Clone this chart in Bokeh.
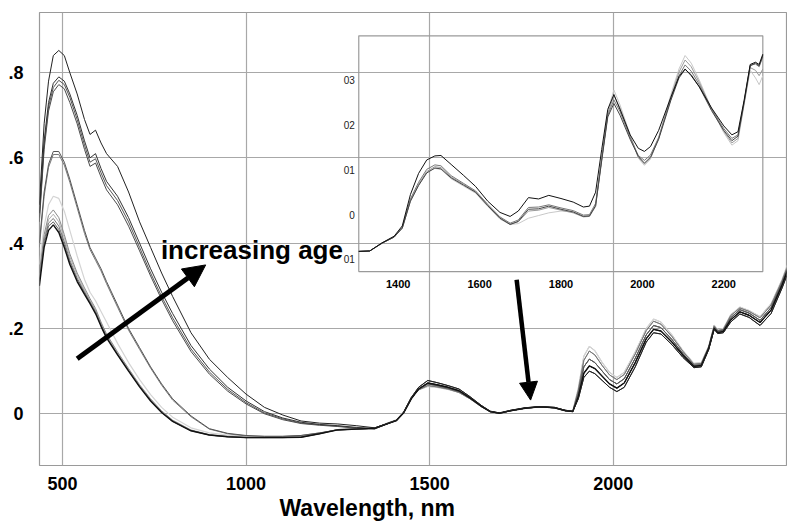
from bokeh.plotting import figure
from bokeh.models import Range1d, FixedTicker, Arrow, NormalHead, Label, Title
from bokeh.core.properties import value
from bokeh.embed import file_html
from bokeh.resources import INLINE

FONT = "Liberation Sans"

# ---------------- main spectra ----------------
vis_wl = [437, 450, 462, 475, 490, 505, 520, 540, 560, 575, 590, 605, 620, 650, 680,
          710, 740, 770, 800, 850, 900, 950, 1000, 1050, 1100, 1150, 1200, 1250, 1300, 1350]

vis_A = [0.49, 0.68, 0.78, 0.84, 0.852, 0.84, 0.80, 0.75, 0.69, 0.655, 0.665, 0.635, 0.61, 0.58, 0.52,
         0.45, 0.39, 0.33, 0.275, 0.19, 0.128, 0.085, 0.046, 0.015, -0.003, -0.017, -0.022, -0.024, -0.028, -0.033]
vis_B1 = [0.47, 0.64, 0.73, 0.775, 0.79, 0.78, 0.75, 0.70, 0.64, 0.60, 0.61, 0.575, 0.545, 0.51, 0.46,
          0.40, 0.34, 0.285, 0.235, 0.16, 0.105, 0.062, 0.03, 0.005, -0.01, -0.02, -0.025, -0.028, -0.032, -0.035]
vis_B2 = [0.46, 0.63, 0.72, 0.765, 0.782, 0.772, 0.742, 0.69, 0.63, 0.59, 0.598, 0.565, 0.535, 0.50, 0.45,
          0.39, 0.33, 0.275, 0.225, 0.152, 0.098, 0.057, 0.026, 0.002, -0.012, -0.022, -0.026, -0.029, -0.033, -0.035]
vis_B3 = [0.45, 0.62, 0.71, 0.755, 0.772, 0.762, 0.73, 0.68, 0.62, 0.58, 0.588, 0.555, 0.525, 0.49, 0.44,
          0.382, 0.323, 0.268, 0.218, 0.146, 0.093, 0.053, 0.023, 0.0, -0.014, -0.023, -0.027, -0.03, -0.034, -0.036]
vis_C1 = [0.40, 0.52, 0.585, 0.615, 0.615, 0.59, 0.55, 0.49, 0.43, 0.39, 0.365, 0.34, 0.31, 0.255, 0.20,
          0.155, 0.11, 0.07, 0.035, -0.005, -0.035, -0.046, -0.051, -0.053, -0.053, -0.051, -0.045, -0.038, -0.036, -0.034]
vis_C2 = [0.39, 0.51, 0.578, 0.608, 0.608, 0.583, 0.543, 0.483, 0.423, 0.385, 0.36, 0.335, 0.305, 0.25, 0.196,
          0.151, 0.107, 0.067, 0.032, -0.007, -0.036, -0.047, -0.052, -0.053, -0.053, -0.051, -0.045, -0.038, -0.036, -0.034]
vis_D = [0.35, 0.44, 0.49, 0.51, 0.505, 0.475, 0.43, 0.37, 0.315, 0.285, 0.265, 0.24, 0.215, 0.165, 0.12,
         0.08, 0.045, 0.015, -0.008, -0.033, -0.045, -0.05, -0.053, -0.055, -0.055, -0.054, -0.046, -0.037, -0.036, -0.034]
vis_E1 = [0.33, 0.42, 0.465, 0.478, 0.46, 0.42, 0.375, 0.33, 0.295, 0.27, 0.247, 0.215, 0.187, 0.145, 0.106,
          0.068, 0.035, 0.007, -0.015, -0.038, -0.049, -0.053, -0.055, -0.055, -0.055, -0.054, -0.046, -0.037, -0.036, -0.034]
vis_E2 = [0.32, 0.41, 0.455, 0.468, 0.45, 0.412, 0.368, 0.325, 0.29, 0.266, 0.243, 0.212, 0.184, 0.142, 0.104,
          0.066, 0.033, 0.005, -0.016, -0.039, -0.05, -0.054, -0.055, -0.056, -0.055, -0.054, -0.046, -0.037, -0.036, -0.034]
vis_E3 = [0.315, 0.405, 0.447, 0.458, 0.44, 0.403, 0.36, 0.318, 0.286, 0.263, 0.24, 0.209, 0.181, 0.14, 0.102,
          0.065, 0.032, 0.004, -0.017, -0.039, -0.05, -0.054, -0.056, -0.056, -0.056, -0.055, -0.047, -0.037, -0.036, -0.034]
vis_E4 = [0.31, 0.398, 0.44, 0.45, 0.432, 0.396, 0.355, 0.314, 0.283, 0.26, 0.237, 0.207, 0.179, 0.139, 0.101,
          0.064, 0.031, 0.003, -0.018, -0.04, -0.05, -0.054, -0.056, -0.056, -0.056, -0.055, -0.047, -0.037, -0.036, -0.034]
vis_E5 = [0.30, 0.39, 0.43, 0.443, 0.425, 0.39, 0.35, 0.31, 0.28, 0.258, 0.235, 0.205, 0.178, 0.138, 0.10,
          0.063, 0.03, 0.003, -0.018, -0.04, -0.05, -0.054, -0.056, -0.056, -0.056, -0.055, -0.047, -0.038, -0.036, -0.034]

nir_wl = [1390, 1410, 1430, 1450, 1470, 1495, 1520, 1550, 1580, 1610, 1640, 1665, 1690, 1720, 1760,
          1800, 1840, 1870, 1890, 1905, 1920, 1935, 1950, 1970, 1990, 2010, 2030, 2060, 2090, 2110,
          2130, 2160, 2190, 2220, 2240, 2260, 2275, 2285, 2300, 2320, 2345, 2370, 2400, 2430, 2460, 2480]

nir_p1 = [-0.022, -0.015, 0.004, 0.038, 0.062, 0.078, 0.073, 0.066, 0.058, 0.04, 0.02, 0.006, 0.002, 0.008, 0.014,
          0.017, 0.015, 0.008, 0.006, 0.035, 0.085, 0.1, 0.094, 0.078, 0.062, 0.052, 0.062, 0.11, 0.168, 0.19,
          0.187, 0.162, 0.132, 0.108, 0.11, 0.15, 0.198, 0.188, 0.19, 0.215, 0.234, 0.226, 0.207, 0.235, 0.295, 0.34]
nir_p2 = [-0.022, -0.016, 0.003, 0.035, 0.058, 0.072, 0.068, 0.062, 0.054, 0.037, 0.018, 0.005, 0.001, 0.007, 0.013,
          0.016, 0.014, 0.007, 0.005, 0.04, 0.095, 0.112, 0.106, 0.088, 0.07, 0.06, 0.072, 0.12, 0.176, 0.198,
          0.194, 0.168, 0.137, 0.111, 0.113, 0.153, 0.2, 0.19, 0.193, 0.22, 0.239, 0.231, 0.214, 0.243, 0.302, 0.348]
nir_p3 = [-0.021, -0.015, 0.004, 0.036, 0.057, 0.07, 0.066, 0.06, 0.052, 0.036, 0.018, 0.005, 0.001, 0.007, 0.013,
          0.016, 0.014, 0.007, 0.005, 0.048, 0.11, 0.128, 0.12, 0.1, 0.08, 0.07, 0.082, 0.13, 0.185, 0.207,
          0.202, 0.174, 0.141, 0.113, 0.115, 0.155, 0.203, 0.193, 0.196, 0.225, 0.244, 0.236, 0.219, 0.249, 0.307, 0.353]
nir_p4 = [-0.021, -0.015, 0.005, 0.037, 0.056, 0.066, 0.063, 0.058, 0.05, 0.035, 0.017, 0.005, 0.001, 0.007, 0.013,
          0.016, 0.014, 0.008, 0.006, 0.055, 0.125, 0.147, 0.138, 0.113, 0.091, 0.08, 0.092, 0.14, 0.195, 0.217,
          0.21, 0.181, 0.146, 0.116, 0.118, 0.157, 0.206, 0.195, 0.198, 0.23, 0.248, 0.24, 0.225, 0.255, 0.312, 0.358]
nir_p5 = [-0.02, -0.014, 0.006, 0.038, 0.056, 0.064, 0.062, 0.057, 0.05, 0.035, 0.017, 0.005, 0.001, 0.007, 0.013,
          0.016, 0.014, 0.008, 0.007, 0.06, 0.135, 0.158, 0.148, 0.12, 0.097, 0.085, 0.097, 0.145, 0.2, 0.222,
          0.215, 0.185, 0.148, 0.118, 0.12, 0.158, 0.208, 0.196, 0.2, 0.232, 0.25, 0.242, 0.228, 0.258, 0.315, 0.362]

# (visible part, NIR part, colour, width)
main_series = [
    (vis_E2, nir_p5, "#b0b0b0", 1.0),
    (vis_D, nir_p5, "#d4d4d4", 1.2),
    (vis_E1, nir_p4, "#8a8a8a", 1.0),
    (vis_E3, nir_p4, "#777777", 1.0),
    (vis_E4, nir_p3, "#666666", 1.0),
    (vis_C2, nir_p3, "#777777", 1.0),
    (vis_C1, nir_p3, "#555555", 1.0),
    (vis_B3, nir_p2, "#4a4a4a", 1.0),
    (vis_B2, nir_p2, "#555555", 1.0),
    (vis_B1, nir_p1, "#333333", 1.0),
    (vis_E5, nir_p2, "#111111", 1.4),
    (vis_A, nir_p1, "#222222", 1.0),
]

# ---------------- inset spectra ----------------
ins_wl = [1303, 1330, 1360, 1390, 1410, 1430, 1450, 1470, 1490, 1505, 1530, 1560, 1590, 1620, 1650, 1675,
          1695, 1720, 1745, 1770, 1800, 1830, 1855, 1870, 1885, 1900, 1915, 1930, 1945, 1970, 1990, 2005,
          2020, 2040, 2070, 2090, 2105, 2120, 2140, 2170, 2200, 2220, 2235, 2250, 2265, 2278, 2287, 2296]
ins_E = [-0.0082, -0.0081, -0.0064, -0.005, -0.003, 0.003, 0.0066, 0.0094, 0.0103, 0.0101, 0.008, 0.0064, 0.0048, 0.0018, -0.001, -0.0022,
         -0.002, -0.0008, -0.0002, 0.0004, 0.0008, 0.0006, -0.0003, -0.0002, 0.002, 0.0125, 0.0232, 0.0278, 0.0245, 0.0178, 0.0126, 0.011,
         0.0124, 0.0172, 0.0268, 0.0325, 0.0355, 0.0338, 0.03, 0.0236, 0.0183, 0.0155, 0.0165, 0.0245, 0.0322, 0.0305, 0.029, 0.031]
ins_D = [-0.0082, -0.0081, -0.0064, -0.005, -0.003, 0.0032, 0.0068, 0.0096, 0.0107, 0.0105, 0.0084, 0.0068, 0.0051, 0.0021, -0.0007, -0.0021,
         -0.0016, 0.0008, 0.001, 0.0016, 0.001, 0.0004, -0.0005, -0.0004, 0.0018, 0.0122, 0.0226, 0.0266, 0.0238, 0.0175, 0.0128, 0.0113,
         0.0126, 0.017, 0.0262, 0.0318, 0.0345, 0.033, 0.0295, 0.0236, 0.0186, 0.016, 0.017, 0.0248, 0.0328, 0.0322, 0.031, 0.0325]
ins_C = [-0.0082, -0.0081, -0.0063, -0.0049, -0.0028, 0.0035, 0.0072, 0.0101, 0.0111, 0.0109, 0.0087, 0.007, 0.0053, 0.0023, -0.0005, -0.0019,
         -0.0012, 0.0016, 0.0017, 0.0022, 0.0015, 0.0009, -0.0001, 0.0, 0.0025, 0.0125, 0.0222, 0.0256, 0.023, 0.0172, 0.0132, 0.0121,
         0.0133, 0.0172, 0.0258, 0.031, 0.0334, 0.032, 0.029, 0.0236, 0.0192, 0.017, 0.0178, 0.0252, 0.0333, 0.0336, 0.033, 0.0352]
ins_B = [-0.0082, -0.0081, -0.0064, -0.005, -0.003, 0.003, 0.0065, 0.0093, 0.0104, 0.0102, 0.0082, 0.0066, 0.005, 0.002, -0.0008, -0.0022,
         -0.0015, 0.0012, 0.0013, 0.0019, 0.0012, 0.0006, -0.0004, -0.0003, 0.002, 0.012, 0.0218, 0.0248, 0.0222, 0.0168, 0.013, 0.0115,
         0.0128, 0.0168, 0.0255, 0.0305, 0.0324, 0.0312, 0.0285, 0.0232, 0.0188, 0.0165, 0.0175, 0.025, 0.0332, 0.0338, 0.0332, 0.0355]
ins_A = [-0.0082, -0.0081, -0.0063, -0.0048, -0.0025, 0.0045, 0.0092, 0.0122, 0.0131, 0.0132, 0.0112, 0.0088, 0.0063, 0.003, 0.0005, -0.0004,
         0.0008, 0.0038, 0.0035, 0.0043, 0.0036, 0.0028, 0.0017, 0.0019, 0.005, 0.0145, 0.0235, 0.0268, 0.0235, 0.0178, 0.0148, 0.0141,
         0.0152, 0.0188, 0.0262, 0.0308, 0.0325, 0.031, 0.0285, 0.0238, 0.0198, 0.0178, 0.0185, 0.0255, 0.0335, 0.034, 0.0335, 0.0358]

inset_series = [
    (ins_E, "#c8c8c8"),
    (ins_D, "#999999"),
    (ins_C, "#777777"),
    (ins_B, "#444444"),
    (ins_A, "#111111"),
]

main_xticks = [500, 1000, 1500, 2000]
main_yticks = [0, 0.2, 0.4, 0.6, 0.8]
main_ylabels = ["0", ".2", ".4", ".6", ".8"]
inset_xticks = [1400, 1600, 1800, 2000, 2200]
inset_xlabels = ["1400", "1600", "1800", "2000", "2200"]
inset_yticks = [0.03, 0.02, 0.01, 0.0, -0.01]
inset_ylabels = ["03", "02", "01", "0", "01"]

# ---------------- figure ----------------
p = figure(width=787, height=523, x_range=Range1d(437.4, 2472), y_range=Range1d(-0.1214, 0.941),
           output_backend="svg", toolbar_location=None,
           min_border_left=39, min_border_right=1, min_border_top=12, min_border_bottom=58)
p.background_fill_color = "white"
p.border_fill_color = "white"
p.outline_line_color = "#9a9a9a"
p.outline_line_width = 1.2

for ax in (p.xaxis[0], p.yaxis[0]):
    ax.axis_line_color = None
    ax.major_tick_line_color = None
    ax.minor_tick_line_color = None
    ax.major_label_text_font = FONT
    ax.major_label_text_font_style = "bold"
    ax.major_label_text_font_size = "18px"
    ax.major_label_text_color = "black"

p.xaxis.ticker = FixedTicker(ticks=main_xticks)
p.xaxis.major_label_standoff = 5
p.yaxis.ticker = FixedTicker(ticks=main_yticks)
p.yaxis.major_label_overrides = {t: l for t, l in zip(main_yticks, main_ylabels)}
p.yaxis.major_label_standoff = 10

p.add_layout(Title(text="Wavelength, nm", align="left", offset=240, text_font=FONT,
                   text_font_style="bold", text_font_size="23px", text_color="black",
                   standoff=0), "below")

p.xgrid.ticker = FixedTicker(ticks=main_xticks)
p.ygrid.ticker = FixedTicker(ticks=main_yticks)
p.xgrid.grid_line_color = "#a8a8a8"
p.ygrid.grid_line_color = "#a8a8a8"
p.xgrid.grid_line_width = 1.2
p.ygrid.grid_line_width = 1.2

for vis, nir, col, w in main_series:
    p.line(vis_wl + nir_wl, vis + nir, line_color=col, line_width=w)

# ---------------- inset ----------------
ix = Range1d(1303, 2296)
iy = Range1d(-0.0127, 0.0399)
sub = p.subplot(x_source=ix, y_source=iy,
                x_target=Range1d(1307, 2407.5), y_target=Range1d(0.3334, 0.8864))
sub.quad(left=[ix.start], right=[ix.end], bottom=[iy.start], top=[iy.end],
         fill_color=None, line_color="#9a9a9a", line_width=1.2)
for ys, col in inset_series:
    sub.line(ins_wl, ys, line_color=col, line_width=1.0)
sub.text(x=inset_xticks, y=[iy.start] * len(inset_xticks), text=inset_xlabels,
         text_font=value(FONT), text_font_style="bold", text_font_size="11px",
         text_align="center", text_baseline="middle", y_offset=12, text_color="black")
sub.text(x=[ix.start] * len(inset_yticks), y=inset_yticks, text=inset_ylabels,
         text_font=value(FONT), text_font_size="10px", text_align="right",
         text_baseline="middle", x_offset=-4, text_color="#222222")

# ---------------- annotations ----------------
p.add_layout(Arrow(end=NormalHead(size=22, fill_color="black", line_color="black"),
                   x_start=540, y_start=0.129, x_end=890, y_end=0.349,
                   line_width=5, line_color="black"))
p.add_layout(Arrow(end=NormalHead(size=18, fill_color="black", line_color="black"),
                   x_start=1737, y_start=0.314, x_end=1775, y_end=0.032,
                   line_width=4.5, line_color="black"))
p.add_layout(Label(x=768, y=0.383, text="increasing age", text_font=FONT,
                   text_font_style="bold", text_font_size="26px", text_color="black",
                   text_baseline="alphabetic"))

open("out.html", "w").write(file_html(p, INLINE))
